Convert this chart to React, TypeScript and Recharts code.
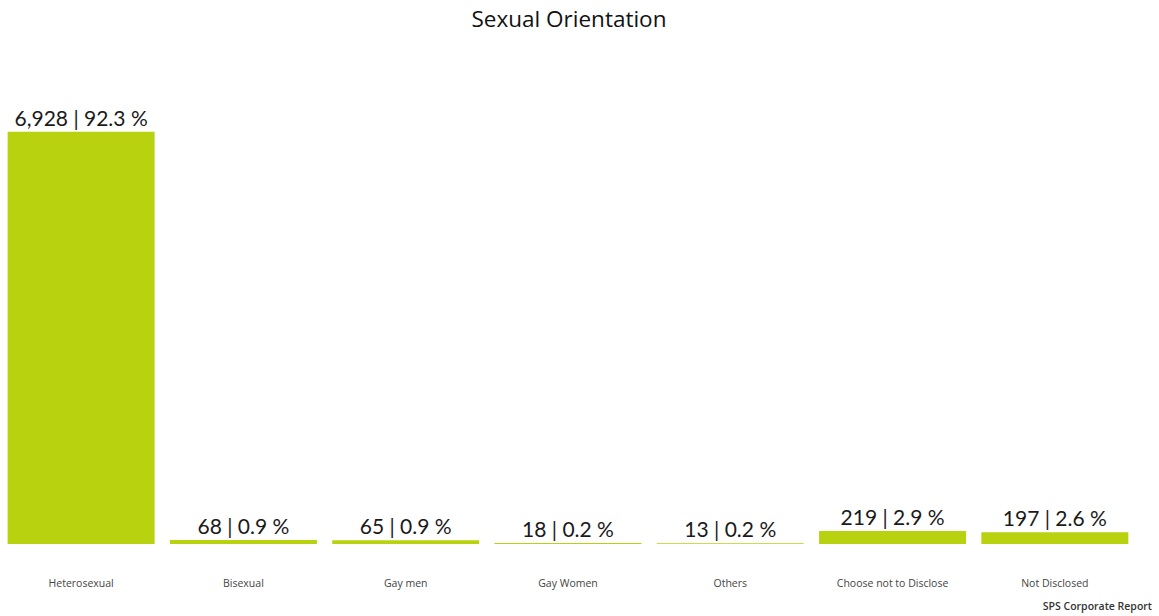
import React from "react";
import { BarChart, Bar, XAxis, YAxis, LabelList } from "recharts";

const categories = [
  "Heterosexual",
  "Bisexual",
  "Gay men",
  "Gay Women",
  "Others",
  "Choose not to Disclose",
  "Not Disclosed",
];
const counts = [6928, 68, 65, 18, 13, 219, 197];
const percents = ["92.3", "0.9", "0.9", "0.2", "0.2", "2.9", "2.6"];

const data = categories.map((c, i) => ({
  name: c,
  value: counts[i],
  label: `${counts[i].toLocaleString("en-US")} | ${percents[i]} %`,
}));

const BAR_COLOR = "#b9d20f";

const renderLabel = (props: any) => {
  const { x, y, width, value } = props;
  return (
    <text
      x={x + width / 2}
      y={y - 6}
      textAnchor="middle"
      fontFamily="Lato, 'Open Sans', sans-serif"
      fontSize={21}
      fill="#1a1a1a"
    >
      {value}
    </text>
  );
};

const renderTick = (props: any) => {
  const { x, y, payload } = props;
  return (
    <text
      x={x}
      y={y + 35}
      textAnchor="middle"
      fontFamily="'Open Sans', Lato, sans-serif"
      fontSize={10.5}
      fill="#444"
    >
      {payload.value}
    </text>
  );
};

export default function App() {
  return (
    <div
      style={{
        position: "absolute",
        left: 0,
        top: 0,
        width: 1159,
        height: 616,
        background: "#fff",
      }}
    >
      <BarChart
        width={1159}
        height={616}
        data={data}
        margin={{ top: 68, right: 23, left: 0, bottom: 0 }}
        barCategoryGap="4.7%"
      >
        <XAxis
          dataKey="name"
          axisLine={false}
          tickLine={false}
          height={72}
          interval={0}
          tick={renderTick}
        />
        <YAxis hide domain={[0, 8000]} />
        <Bar dataKey="value" fill={BAR_COLOR} isAnimationActive={false}>
          <LabelList dataKey="label" content={renderLabel} />
        </Bar>
      </BarChart>
      <div
        style={{
          position: "absolute",
          left: 0,
          top: 3,
          width: 1138,
          textAlign: "center",
          fontFamily: "'Open Sans', sans-serif",
          fontSize: 22.5,
          color: "#111",
        }}
      >
        Sexual Orientation
      </div>
      <div
        style={{
          position: "absolute",
          right: 7,
          top: 599,
          fontFamily: "'Open Sans', sans-serif",
          fontSize: 10.5,
          fontWeight: 600,
          color: "#333",
        }}
      >
        SPS Corporate Report
      </div>
    </div>
  );
}
